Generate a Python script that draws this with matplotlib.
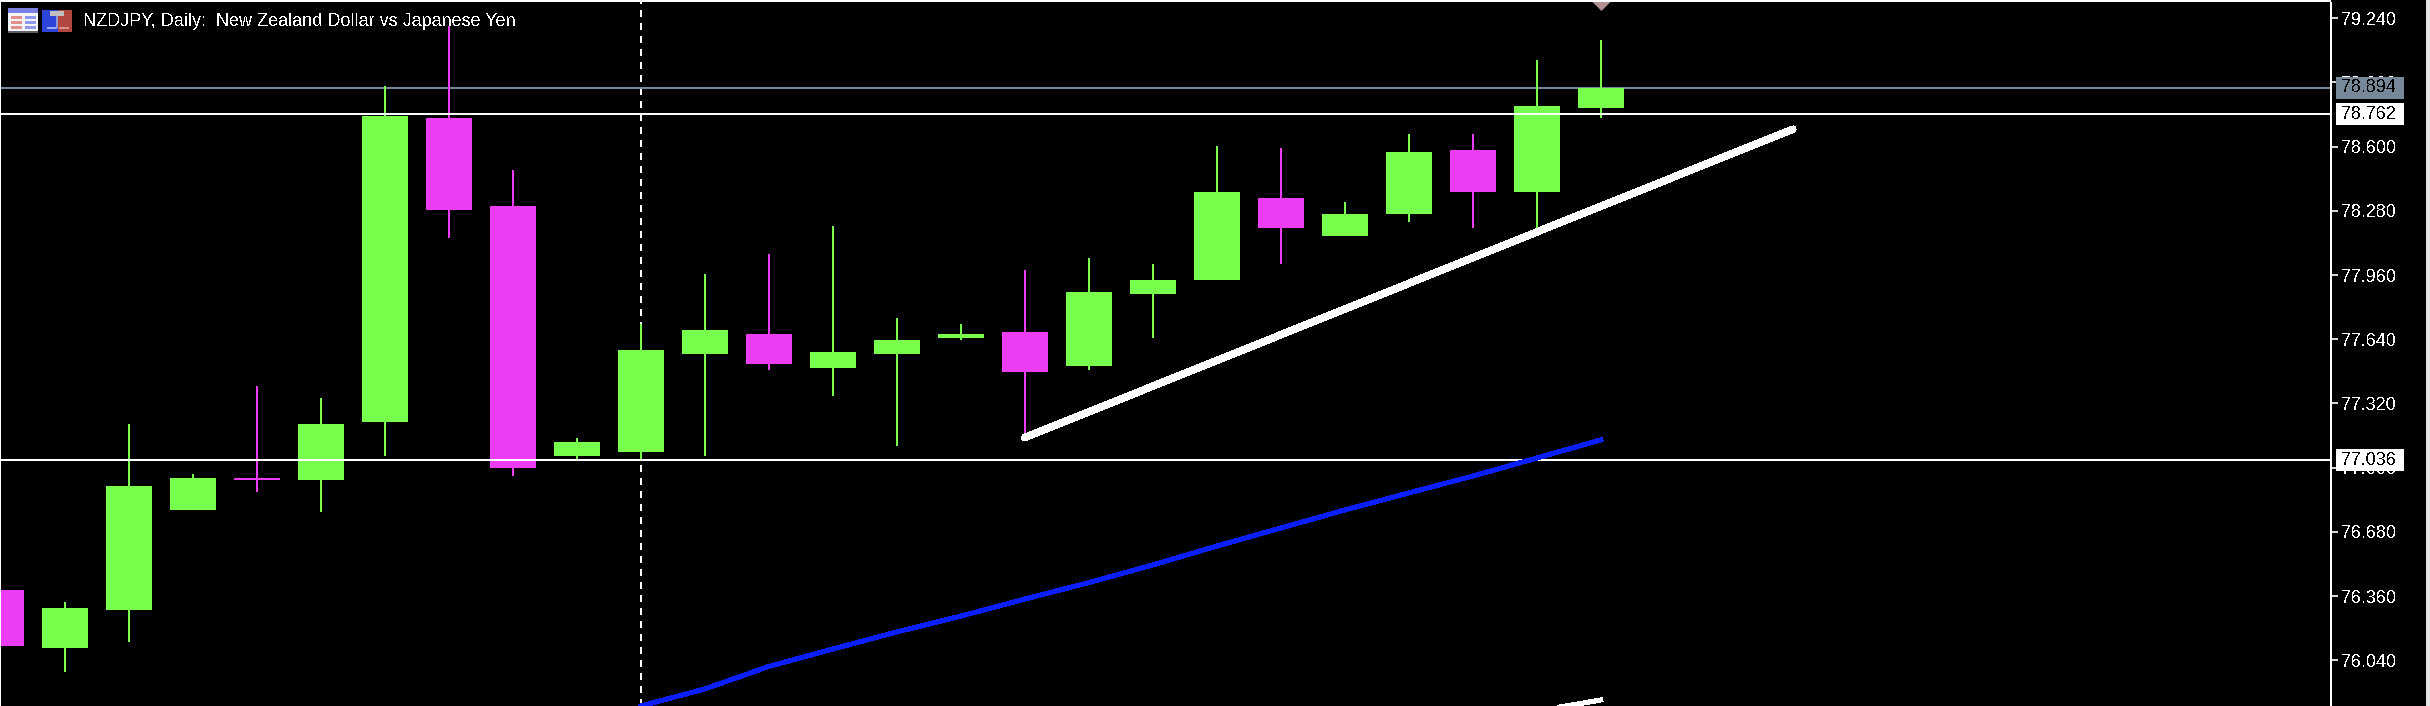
import matplotlib
matplotlib.use("Agg")
import matplotlib.pyplot as plt
from matplotlib.patches import Rectangle
from matplotlib.transforms import blended_transform_factory

plt.rcParams['font.family'] = ['Liberation Sans', 'DejaVu Sans']
plt.rcParams['text.antialiased'] = False
plt.rcParams['lines.scale_dashes'] = False

###Candles, one per day, oldest first###
open_px = [76.391, 76.101, 76.290, 76.788, 76.947, 76.938, 77.228, 78.743, 78.303, 77.058, 77.078, 77.567, 77.666,
           77.497, 77.567, 77.646, 77.677, 77.507, 77.866, 77.935, 78.344, 78.155, 78.265, 78.584, 78.374, 78.793]
high_px = [76.391, 76.330, 77.217, 76.968, 77.408, 77.347, 78.903, 79.202, 78.483, 77.147, 77.715, 77.964, 78.066,
           78.205, 77.746, 77.715, 77.985, 78.045, 78.016, 78.604, 78.593, 78.323, 78.662, 78.662, 79.032, 79.132]
low_px = [76.110, 75.982, 76.131, 76.788, 76.878, 76.779, 77.058, 78.144, 76.959, 77.038, 77.038, 77.058, 77.486,
          77.356, 77.107, 77.637, 77.154, 77.486, 77.646, 77.935, 78.016, 78.155, 78.225, 78.196, 78.195, 78.743]
close_px = [76.110, 76.301, 76.910, 76.947, 76.938, 77.217, 78.754, 78.285, 76.999, 77.127, 77.587, 77.686, 77.518,
            77.576, 77.637, 77.666, 77.477, 77.875, 77.935, 78.375, 78.196, 78.265, 78.573, 78.375, 78.803, 78.893]

###Moving averages and drawn objects###
blue_ma_idx = list(range(10, 26))
blue_ma = [75.812, 75.897, 76.009, 76.096, 76.181, 76.260, 76.345, 76.427,
           76.515, 76.609, 76.699, 76.789, 76.874, 76.958, 77.048, 77.138]
white_ma_idx = [24, 25]
white_ma = [75.787, 75.842]
trend_idx = [16, 28]
trend_price = [77.150, 78.687]
separator_idx = 10
arrow_idx = 25
arrow_price = 79.299

tick_prices = [79.240, 78.920, 78.600, 78.280, 77.960, 77.640, 77.320, 77.000, 76.680, 76.360, 76.040]
ask_price = 78.894
level_prices = [78.762, 77.036]

UP = "#78FF4C"
DOWN = "#EC3CF4"
ASK = "#778899"
W, H = 2430, 706
PX = 0.72  # one pixel in points at dpi 100

fig = plt.figure(figsize=(W / 100, H / 100), dpi=100, facecolor="black")
ax = fig.add_axes([0, 0, 2331 / W, (H - 1) / H], facecolor="black")
ax.set_xlim((0 - 0.8) / 64, (2331 - 0.8) / 64)
ax.set_ylim(75.812, 79.326)

days = list(range(len(open_px)))
colors = [UP if c >= o else DOWN for o, c in zip(open_px, close_px)]
bottoms = [min(o, c) for o, c in zip(open_px, close_px)]
heights = [abs(o - c) for o, c in zip(open_px, close_px)]

# lines behind the candles
ax.axvline(separator_idx, color="white", lw=2 * PX, ls=(0, (6 * PX, 6 * PX)), zorder=1, antialiased=False)
ax.axhline(ask_price, color=ASK, lw=2 * PX, zorder=1, antialiased=False)

ax.vlines(days, low_px, high_px, colors=colors, lw=2 * PX, zorder=2, antialiased=False)
ax.bar(days, heights, bottom=bottoms, width=46 / 64, color=colors, zorder=2, antialiased=False)

for level in level_prices:
    ax.axhline(level, color="white", lw=2 * PX, zorder=3, antialiased=False)

ax.plot(blue_ma_idx, blue_ma, color="#0A1EFF", lw=4 * PX, zorder=4, antialiased=False)
ax.plot(white_ma_idx, white_ma, color="white", lw=4 * PX, zorder=4, antialiased=False)
ax.plot(trend_idx, trend_price, color="white", lw=6.5 * PX, solid_capstyle="round", zorder=4, antialiased=False)
ax.plot([arrow_idx], [arrow_price], marker=[(-1, 0.5), (1, 0.5), (0, -0.5)], ms=18 * PX,
        color="#B09090", mew=0, zorder=5, clip_on=False)

for side in ["left", "top", "right"]:
    ax.spines[side].set_color("white")
    ax.spines[side].set_linewidth(2 * PX)
ax.spines["bottom"].set_visible(False)
ax.set_xticks([])
ax.yaxis.tick_right()
ax.set_yticks(tick_prices)
ax.set_yticklabels(["%.3f" % p for p in tick_prices])
ax.tick_params(axis="y", colors="white", length=5, width=1.2, pad=2, labelsize=13)

# second layer in pixels for the chart header, the icons and the price boxes
top = fig.add_axes([0, 0, 1, 1], zorder=10)
top.set_xlim(0, W)
top.set_ylim(H, 0)
top.axis("off")

top.add_patch(Rectangle((W - 4, 0), 4, H, fc="#E4E4E4", ec="none"))
top.add_patch(Rectangle((2331, 0), W - 4 - 2331, 2, fc="black", ec="none"))

top.text(83, 22, "NZDJPY, Daily:  New Zealand Dollar vs Japanese Yen", color="white",
         fontsize=13, va="center", ha="left")


def block(x, y, w, h, color):
    top.add_patch(Rectangle((x, y), w, h, fc=color, ec="none", antialiased=False))


# table icon
block(8, 8, 30, 25, "#F4F4F8")
block(8, 8, 30, 5, "#7C80E0")
block(8, 31, 30, 2, "#606068")
for y in [16, 21, 26]:
    block(11, y, 11, 3, "#E09088")
    block(25, y, 11, 3, "#9098F0")
# floppy icon
block(42, 10, 16, 22, "#2C44D8")
block(58, 10, 14, 22, "#B04840")
block(47, 27, 10, 2, "#9CA8F0")
block(59, 27, 10, 2, "#D89088")
block(50, 11, 14, 5, "#C0C0C0")
block(56, 16, 2, 12, "#9098D0")

# price boxes on the scale
box_tr = blended_transform_factory(top.transData, ax.transData)
box_h = 22 / 200.6
boxes = [(ask_price, ASK), (level_prices[0], "white"), (level_prices[1], "white")]
for price, face in boxes:
    top.add_patch(Rectangle((2336, price - box_h / 2), 68, box_h, fc=face, ec="none",
                            transform=box_tr, antialiased=False))
    top.text(2341, price, "%.3f" % price, color="black", fontsize=13, va="center", ha="left",
             transform=box_tr)

fig.savefig("out.png", dpi=100, facecolor="black")
